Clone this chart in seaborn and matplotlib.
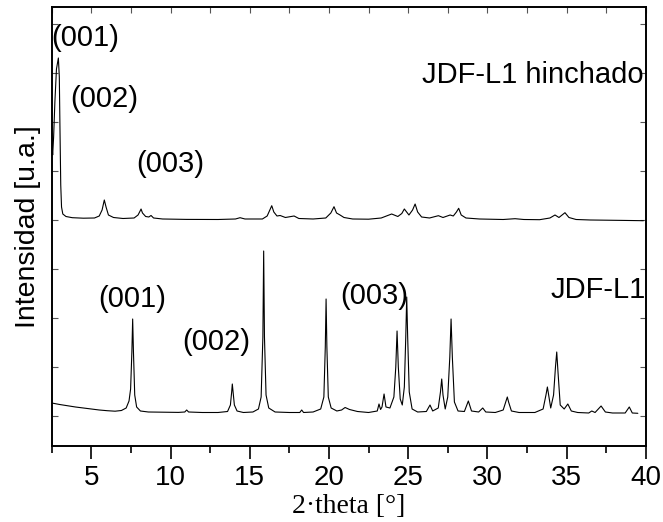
import numpy as np
import pandas as pd
import matplotlib
matplotlib.use("Agg")
import matplotlib.pyplot as plt
import seaborn as sns
from matplotlib.ticker import MultipleLocator

# ---- data (intensity in arbitrary units) ----
# JDF-L1 (lower pattern)
theta_l1 = [2.5, 3.0, 3.5, 4.0, 4.5, 5.0, 5.5, 6.0, 6.5, 6.9, 7.2, 7.38, 7.48, 7.56, 7.61, 7.66, 7.74, 7.86,
            8.1, 8.6, 9.5, 10.5, 10.9, 11.02, 11.14, 12.0, 13.0, 13.6, 13.78, 13.86, 13.90, 13.95, 14.03, 14.2,
            14.6, 15.2, 15.55, 15.72, 15.83, 15.88, 15.93, 16.03, 16.2, 16.6, 17.5, 18.16, 18.28, 18.40,
            19.0, 19.48, 19.68, 19.77, 19.82, 19.87, 19.96, 20.14, 20.5, 20.8, 21.02, 21.3, 21.8, 22.5,
            23.05, 23.16, 23.26, 23.35, 23.48, 23.6, 23.85, 24.1, 24.22, 24.30, 24.38, 24.5, 24.63, 24.76,
            24.85, 24.91, 24.97, 25.07, 25.25, 25.6, 26.15, 26.38, 26.55, 26.9, 27.04, 27.12, 27.2, 27.34,
            27.5, 27.63, 27.71, 27.79, 27.92, 28.15, 28.55, 28.80, 29.0, 29.45, 29.71, 29.9, 30.5, 31.0,
            31.16, 31.26, 31.34, 31.52, 32.0, 33.0, 33.52, 33.7, 33.79, 33.87, 34.0, 34.18, 34.3, 34.38,
            34.46, 34.6, 34.85, 35.08, 35.3, 35.7, 36.4, 36.59, 36.8, 37.18, 37.45, 37.9, 38.7, 38.96,
            39.15, 39.5]
int_l1 = [44, 42.5, 41.2, 40, 39, 38, 37, 36.3, 35.8, 36.5, 39, 46, 58, 95, 128, 95, 52, 40,
          36, 35, 34.8, 34.6, 35, 37, 35, 34.5, 34.5, 35.5, 42, 55, 63, 55, 42, 36,
          34.5, 35, 38, 50, 110, 196, 110, 52, 39, 35, 34.5, 34.5, 37, 34.5,
          35, 38, 50, 100, 148, 100, 50, 39, 36, 37, 39.5, 37.5, 35.5, 34.5,
          36, 43, 37.5, 40, 53, 40, 39, 50, 80, 116, 80, 48, 42, 60,
          110, 150, 110, 55, 38, 35, 35.5, 42, 36, 39, 55, 68, 52, 38,
          50, 90, 128, 90, 45, 36, 35.5, 46, 36, 35, 39, 35, 34.5, 37,
          45, 50, 45, 36, 34.5, 34.5, 38, 52, 60, 52, 39, 52, 80, 95,
          75, 42, 38, 43, 36, 34.5, 34, 36, 34.5, 41, 35, 34, 34, 40,
          34, 33.7]

# JDF-L1 hinchado (upper pattern)
theta_h = [2.5, 2.53, 2.56, 2.62, 2.7, 2.8, 2.92, 2.98, 3.02, 3.07, 3.12, 3.2, 3.4, 3.8, 4.5, 5.2,
           5.5, 5.68, 5.82, 5.93, 6.08, 6.4, 7.0, 7.7, 7.95, 8.08, 8.14, 8.23, 8.43, 8.63, 8.77, 8.93,
           9.5, 11.0, 13.0, 14.1, 14.39, 14.7, 15.8, 16.1, 16.27, 16.39, 16.52, 16.72, 16.92, 17.25,
           17.80, 18.1, 19.0, 19.8, 20.12, 20.32, 20.48, 20.70, 20.95, 21.5, 22.5, 23.3, 23.96, 24.35,
           24.6, 24.76, 25.05, 25.28, 25.44, 25.6, 25.85, 26.35, 26.91, 27.2, 27.65, 27.85, 28.05,
           28.19, 28.35, 28.65, 29.5, 31.0, 31.75, 32.3, 33.3, 33.95, 34.27, 34.52, 34.90, 35.15,
           35.6, 36.5, 37.5, 38.5, 39.85]
int_h = [314, 300, 292, 310, 345, 378, 389, 370, 320, 262, 240, 233, 230.5, 229.3, 228.8, 229,
         231, 237, 247, 240, 232, 229.5, 228.5, 229, 232, 236, 238, 234, 230.5, 230, 231.5, 229,
         228, 227.6, 227.5, 228, 229.3, 228, 228, 231, 237, 241.3, 235, 231, 231.5, 229.5,
         231, 228.5, 228, 229, 234, 240.3, 234, 232, 229.5, 228, 227.8, 229, 233, 230.5,
         233.5, 238, 232, 237, 243, 235, 230, 229, 231.3, 229.5, 232, 231, 235,
         238.7, 232, 229, 228, 227.5, 228.3, 227.5, 227.3, 229, 232, 229.5, 234.3, 229.5,
         227.5, 227, 226.8, 226.6, 226.3]

x_ticks = [5, 10, 15, 20, 25, 30, 35, 40]
series_labels = ["JDF-L1 hinchado", "JDF-L1"]
hkl_labels = ["(001)", "(002)", "(003)"]

# ---- style ----
sns.set_theme(style="ticks")
plt.rcParams["font.family"] = ["Liberation Sans", "DejaVu Sans"]
plt.rcParams["axes.linewidth"] = 1.4
plt.rcParams["text.color"] = "black"
plt.rcParams["axes.labelcolor"] = "black"
plt.rcParams["xtick.color"] = "black"
plt.rcParams["ytick.color"] = "black"

fig = plt.figure(figsize=(6.63, 5.22), dpi=100)
ax = fig.add_axes([0.078, 0.1456, 0.896, 0.841])

df_h = pd.DataFrame({"theta": theta_h, "I": int_h})
df_l1 = pd.DataFrame({"theta": theta_l1, "I": int_l1})
sns.lineplot(data=df_h, x="theta", y="I", ax=ax, color="black", lw=0.8,
             sort=False, estimator=None)
sns.lineplot(data=df_l1, x="theta", y="I", ax=ax, color="black", lw=0.8,
             sort=False, estimator=None)

ax.set_xlim(2.5, 40)
ax.set_ylim(1, 440)
ax.set_xticks(x_ticks)
ax.xaxis.set_minor_locator(MultipleLocator(2.5))
ax.set_yticks(np.arange(31, 440, 49))
ax.set_yticklabels([])
ax.tick_params(axis="x", which="major", direction="out", length=9, width=1.2,
               labelsize=20, pad=5, top=False, labelcolor="black")
ax.tick_params(axis="x", which="minor", direction="out", length=5, width=1.2, top=False)
ax.tick_params(axis="y", which="major", direction="in", length=4, width=0.8,
               left=True, right=True, color="#555555")
for s in ax.spines.values():
    s.set_color("black")

# inward ticks along top spine
sec = ax.secondary_xaxis("top")
sec.set_xticks(np.arange(2.5, 40.1, 2.5))
sec.set_xticklabels([])
sec.tick_params(direction="in", length=4, width=0.8, color="#555555")
sec.spines["top"].set_visible(False)

ax.set_xlabel("2·theta [°]", fontsize=20, family=["Liberation Serif", "DejaVu Serif"],
              labelpad=2, color="black")
ax.set_ylabel("Intensidad [u.a.]", fontsize=20.5, labelpad=4, color="black")

fs = 21
# upper pattern annotations
ax.text(2.48, 401, hkl_labels[0], fontsize=fs, ha="left", va="baseline", color="black")
ax.text(3.68, 340, hkl_labels[1], fontsize=fs, ha="left", va="baseline", color="black")
ax.text(7.81, 275, hkl_labels[2], fontsize=fs, ha="left", va="baseline", color="black")
ax.text(39.88, 364, series_labels[0], fontsize=fs, ha="right", va="baseline", color="black")
# lower pattern annotations
ax.text(5.43, 140, hkl_labels[0], fontsize=fs, ha="left", va="baseline", color="black")
ax.text(10.75, 97, hkl_labels[1], fontsize=fs, ha="left", va="baseline", color="black")
ax.text(20.69, 143, hkl_labels[2], fontsize=fs, ha="left", va="baseline", color="black")
ax.text(40.0, 149, series_labels[1], fontsize=fs, ha="right", va="baseline", color="black")

fig.savefig("out.png", dpi=100)
